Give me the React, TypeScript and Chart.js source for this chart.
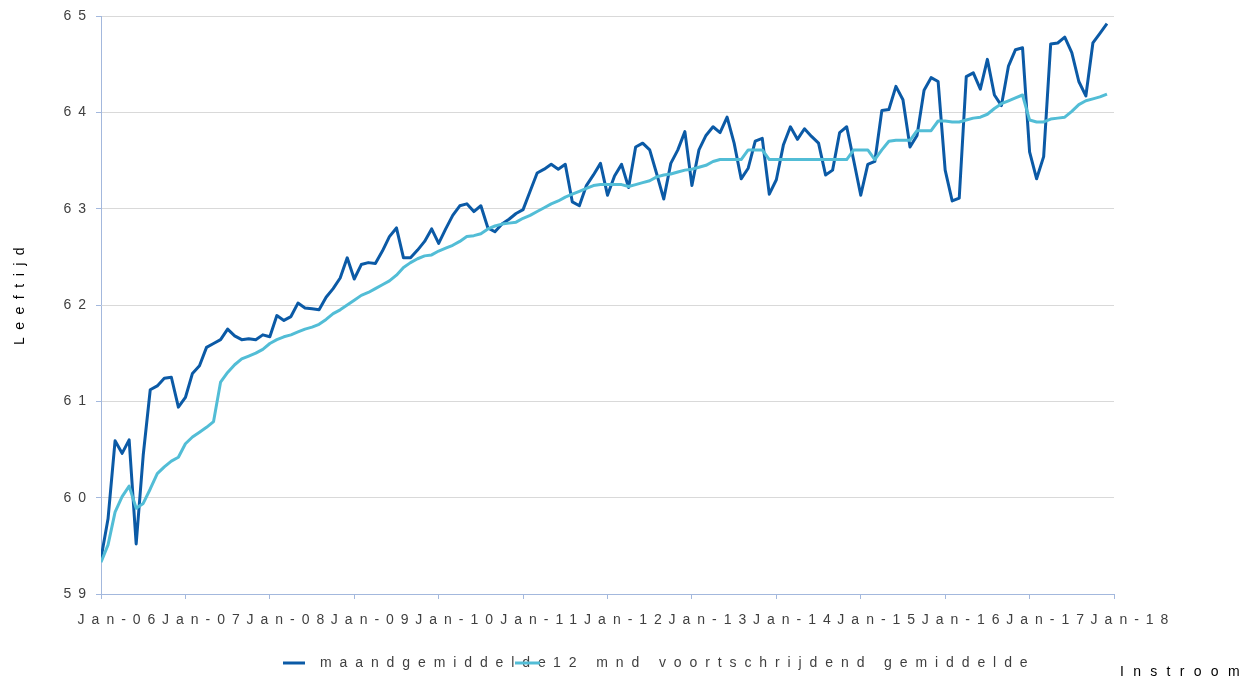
import { useEffect, useRef } from "react";
import { Chart, registerables } from "chart.js";

Chart.register(...registerables);

const YEARS = ["06", "07", "08", "09", "10", "11", "12", "13", "14", "15", "16", "17", "18"];
const SERIES_LABELS = ["maandgemiddelde", "12 mnd voortschrijdend gemiddelde"];
const Y_TITLE = "Leeftijd";
const X_TITLE = "Instroom";
const Y_MIN = 59;
const Y_MAX = 65;

// monthly values Jan-06 .. Dec-17
const MAANDGEMIDDELDE = [
  59.37, 59.78, 60.59, 60.46, 60.6, 59.52, 60.44, 61.12, 61.16, 61.24, 61.25, 60.94,
  61.04, 61.29, 61.37, 61.56, 61.6, 61.64, 61.75, 61.68, 61.64, 61.65, 61.64, 61.69,
  61.67, 61.89, 61.84, 61.88, 62.02, 61.97, 61.96, 61.95, 62.08, 62.17, 62.28, 62.49,
  62.27, 62.42, 62.44, 62.43, 62.56, 62.71, 62.8, 62.49, 62.49, 62.57, 62.66, 62.79,
  62.64, 62.79, 62.93, 63.03, 63.05, 62.97, 63.03, 62.8, 62.76, 62.84, 62.89, 62.95,
  62.99, 63.18, 63.37, 63.41, 63.46, 63.41, 63.46, 63.07, 63.03, 63.24, 63.35, 63.47,
  63.14, 63.34, 63.46, 63.22, 63.64, 63.68, 63.61, 63.36, 63.1, 63.47, 63.61, 63.8,
  63.24, 63.61, 63.76, 63.85, 63.79, 63.95, 63.68, 63.31, 63.42, 63.7, 63.73, 63.15,
  63.3, 63.66, 63.85, 63.72, 63.83, 63.75, 63.68, 63.35, 63.4, 63.79, 63.85, 63.5,
  63.14, 63.46, 63.49, 64.02, 64.03, 64.27, 64.13, 63.64, 63.76, 64.23, 64.36, 64.32,
  63.4, 63.08, 63.11, 64.37, 64.41, 64.24, 64.55, 64.18, 64.07, 64.48, 64.65, 64.67,
  63.59, 63.31, 63.54, 64.71, 64.72, 64.78, 64.62, 64.32, 64.17, 64.72, 64.82, 64.92,
];

const VOORTSCHRIJDEND = [
  59.33, 59.51, 59.85, 60.01, 60.12, 59.89, 59.94, 60.09, 60.25, 60.32, 60.38, 60.42,
  60.56, 60.63, 60.68, 60.73, 60.79, 61.2, 61.3, 61.38, 61.44, 61.47, 61.5, 61.54,
  61.6, 61.64, 61.67, 61.69, 61.72, 61.75, 61.77, 61.8, 61.85, 61.91, 61.95, 62.0,
  62.05, 62.1, 62.13, 62.17, 62.21, 62.25, 62.31, 62.39, 62.44, 62.48, 62.51, 62.52,
  62.56, 62.59, 62.62, 62.66, 62.71, 62.72, 62.74, 62.79, 62.82, 62.84, 62.85, 62.86,
  62.9, 62.93, 62.97, 63.01, 63.05, 63.08, 63.12, 63.15, 63.18, 63.21, 63.24, 63.25,
  63.25, 63.25, 63.25, 63.23, 63.25, 63.27, 63.29, 63.33, 63.35, 63.36, 63.38, 63.4,
  63.41, 63.43, 63.45, 63.49, 63.51, 63.51, 63.51, 63.51, 63.61, 63.61, 63.61, 63.51,
  63.51, 63.51, 63.51, 63.51, 63.51, 63.51, 63.51, 63.51, 63.51, 63.51, 63.51, 63.61,
  63.61, 63.61, 63.51, 63.61, 63.7, 63.71, 63.71, 63.71, 63.81, 63.81, 63.81, 63.91,
  63.91, 63.9, 63.9, 63.92, 63.94, 63.95, 63.98, 64.04, 64.09, 64.12, 64.15, 64.18,
  63.92, 63.9, 63.9, 63.93, 63.94, 63.95, 64.01, 64.08, 64.12, 64.14, 64.16, 64.19,
];

const FAMILY = '"Liberation Sans", Arial, sans-serif';
const DARK = "#0B5AA6";
const CYAN = "#52BDD6";
const GRID = "#D9D9D9";
const AXIS = "#A3B8DD";
const TEXT = "#3F3F3F";

const textPlugin = {
  id: "spacedTexts",
  beforeDraw(chart: any) {
    chart.ctx.letterSpacing = "7px";
  },
  afterDraw(chart: any) {
    const ctx = chart.ctx as CanvasRenderingContext2D & { letterSpacing: string };
    ctx.save();
    ctx.font = `14px ${FAMILY}`;
    ctx.textBaseline = "middle";
    ctx.textAlign = "left";
    // legend
    const ly = 663;
    ctx.lineWidth = 3;
    ctx.strokeStyle = DARK;
    ctx.beginPath();
    ctx.moveTo(283, ly);
    ctx.lineTo(305, ly);
    ctx.stroke();
    ctx.fillStyle = TEXT;
    ctx.letterSpacing = "7.9px";
    ctx.fillText(SERIES_LABELS[0], 320, ly);
    ctx.strokeStyle = CYAN;
    ctx.beginPath();
    ctx.moveTo(515, ly);
    ctx.lineTo(540, ly);
    ctx.stroke();
    ctx.fillText(SERIES_LABELS[1], 553, ly);
    // x title
    ctx.fillStyle = "#000";
    ctx.letterSpacing = "9.3px";
    ctx.fillText(X_TITLE, 1120, 672);
    // y title
    ctx.letterSpacing = "7.5px";
    ctx.translate(20, 345);
    ctx.rotate(-Math.PI / 2);
    ctx.fillText(Y_TITLE, 0, 0);
    ctx.restore();
    ctx.letterSpacing = "0px";
  },
};

export default function App() {
  const ref = useRef<HTMLCanvasElement | null>(null);

  useEffect(() => {
    document.body.style.margin = "0";
    const canvas = ref.current;
    if (!canvas) return;
    const chart = new Chart(canvas, {
      type: "line",
      data: {
        datasets: [
          {
            label: SERIES_LABELS[0],
            data: MAANDGEMIDDELDE.map((v, i) => ({ x: i, y: v })),
            borderColor: DARK,
            backgroundColor: DARK,
            borderWidth: 3,
            pointRadius: 0,
            tension: 0,
            borderJoinStyle: "round",
            order: 1,
          },
          {
            label: SERIES_LABELS[1],
            data: VOORTSCHRIJDEND.map((v, i) => ({ x: i, y: v })),
            borderColor: CYAN,
            backgroundColor: CYAN,
            borderWidth: 3,
            pointRadius: 0,
            tension: 0,
            borderJoinStyle: "round",
            order: 0,
          },
        ],
      },
      options: {
        animation: false,
        responsive: false,
        maintainAspectRatio: false,
        devicePixelRatio: 1,
        layout: { padding: { left: 0, right: 126, top: 16, bottom: 46 } },
        plugins: {
          legend: { display: false },
          tooltip: { enabled: false },
        },
        scales: {
          x: {
            type: "linear",
            min: 0,
            max: (YEARS.length - 1) * 12,
            grid: { drawOnChartArea: false, drawTicks: true, tickLength: 5, color: AXIS, tickColor: AXIS },
            border: { color: AXIS, width: 1 },
            ticks: {
              stepSize: 12,
              autoSkip: false,
              maxRotation: 0,
              minRotation: 0,
              padding: 13,
              labelOffset: 19,
              color: TEXT,
              font: { size: 14, family: FAMILY },
              callback: (v: any) => `Jan-${YEARS[Math.round(Number(v) / 12)]}`,
            },
            afterFit: (s: any) => {
              s.height = 40;
            },
          },
          y: {
            min: Y_MIN,
            max: Y_MAX,
            grid: { color: GRID, tickColor: AXIS, tickLength: 5, lineWidth: 1 },
            border: { color: AXIS, width: 1 },
            ticks: {
              stepSize: 1,
              padding: 3,
              color: TEXT,
              font: { size: 14, family: FAMILY },
            },
            afterFit: (s: any) => {
              s.width = 101;
            },
          },
        },
      },
      plugins: [textPlugin],
    } as any);
    return () => chart.destroy();
  }, []);

  return <canvas ref={ref} width={1240} height={680} style={{ display: "block", width: 1240, height: 680 }} />;
}
